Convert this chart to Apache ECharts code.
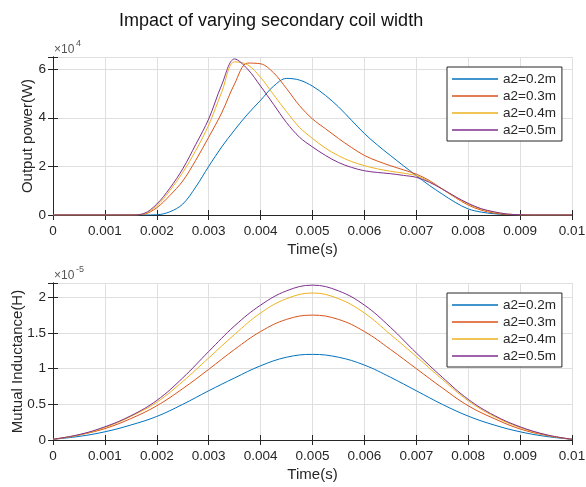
<!DOCTYPE html>
<html>
<head>
<meta charset="UTF-8">
<script src="https://cdn.jsdelivr.net/npm/echarts@6/dist/echarts.min.js"></script>
<title>Impact of varying secondary coil width</title>
<style>
  html, body { margin: 0; padding: 0; background: #fff; }
  #graph { width: 586px; height: 487px; }
</style>
</head>
<body>
<div id="graph"></div>
<script>
  // series names
  var names = ['a2=0.2m', 'a2=0.3m', 'a2=0.4m', 'a2=0.5m'];
  var colors = ['#0072BD', '#D95319', '#EDB120', '#7E2F8E'];

  // output power, x10^4 W, sampled every 0.25 ms
  var timeP = [0, 0.00025, 0.0005, 0.00075, 0.001, 0.00125, 0.0015, 0.00175, 0.002, 0.00225,
               0.0025, 0.00275, 0.003, 0.00325, 0.0035, 0.00375, 0.004, 0.00425, 0.0045, 0.00475,
               0.005, 0.00525, 0.0055, 0.00575, 0.006, 0.00625, 0.0065, 0.00675, 0.007, 0.00725,
               0.0075, 0.00775, 0.008, 0.00825, 0.0085, 0.00875, 0.009, 0.00925, 0.0095, 0.00975, 0.01];
  var powerA = [0, 0, 0, 0, 0, 0, 0, 0, 0.01, 0.13,
                0.45, 1.15, 2.0, 2.8, 3.5, 4.15, 4.72, 5.3, 5.62, 5.55,
                5.3, 4.92, 4.45, 3.9, 3.35, 2.88, 2.45, 2.03, 1.62, 1.22,
                0.86, 0.52, 0.25, 0.12, 0.05, 0.015, 0, 0, 0, 0, 0];
  var powerB = [0, 0, 0, 0, 0, 0, 0, 0.03, 0.3, 0.8,
                1.4, 2.25, 3.2, 4.2, 5.4, 6.25, 6.22, 5.85, 5.2, 4.5,
                3.95, 3.55, 3.15, 2.78, 2.45, 2.22, 2.03, 1.86, 1.68, 1.42,
                1.07, 0.72, 0.41, 0.2, 0.08, 0.02, 0, 0, 0, 0, 0];
  var powerC = [0, 0, 0, 0, 0, 0, 0, 0.04, 0.38, 1.0,
                1.75, 2.65, 3.7, 5.05, 6.3, 6.18, 5.66, 4.95, 4.25, 3.6,
                3.15, 2.75, 2.44, 2.2, 2.03, 1.9, 1.8, 1.72, 1.62, 1.38,
                1.07, 0.74, 0.45, 0.24, 0.12, 0.04, 0.01, 0, 0, 0, 0];
  var powerD = [0, 0, 0, 0, 0, 0, 0, 0.06, 0.45, 1.1,
                1.9, 2.9, 3.95, 5.35, 6.42, 6.0, 5.3, 4.55, 3.8, 3.2,
                2.8, 2.45, 2.16, 1.96, 1.82, 1.75, 1.7, 1.63, 1.55, 1.35,
                1.07, 0.76, 0.48, 0.26, 0.13, 0.04, 0.01, 0, 0, 0, 0];

  // mutual inductance, x10^-5 H
  var timeM = [0, 0.0005, 0.001, 0.0015, 0.002, 0.0025, 0.003, 0.0035, 0.004, 0.0045, 0.005,
               0.0055, 0.006, 0.0065, 0.007, 0.0075, 0.008, 0.0085, 0.009, 0.0095, 0.01];
  var mutualA = [0.01, 0.05, 0.115, 0.21, 0.33, 0.5, 0.69, 0.87, 1.04, 1.16, 1.2,
                 1.16, 1.05, 0.88, 0.69, 0.5, 0.335, 0.21, 0.115, 0.05, 0.01];
  var mutualB = [0.01, 0.07, 0.16, 0.3, 0.48, 0.72, 0.99, 1.27, 1.52, 1.69, 1.75,
                 1.69, 1.52, 1.27, 1.0, 0.73, 0.48, 0.3, 0.155, 0.065, 0.01];
  var mutualC = [0.01, 0.07, 0.175, 0.33, 0.53, 0.82, 1.15, 1.48, 1.78, 1.98, 2.06,
                 1.98, 1.78, 1.48, 1.17, 0.85, 0.55, 0.33, 0.175, 0.07, 0.01];
  var mutualD = [0.01, 0.075, 0.185, 0.34, 0.555, 0.87, 1.24, 1.6, 1.89, 2.09, 2.17,
                 2.09, 1.89, 1.58, 1.22, 0.88, 0.57, 0.345, 0.185, 0.075, 0.01];

  var powerSets = [powerA, powerB, powerC, powerD];
  var mutualSets = [mutualA, mutualB, mutualC, mutualD];

  var font = 'Liberation Sans, Arial, Helvetica, sans-serif';
  var ink = '#262626';

  function pairs(xs, ys) {
    return xs.map(function (x, i) { return [x, ys[i]]; });
  }

  function xAxisMain(grid) {
    return {
      type: 'value', gridIndex: grid, min: 0, max: 0.01, interval: 0.001,
      name: 'Time(s)', nameLocation: 'middle', nameGap: 27, nameMoveOverlap: false,
      nameTextStyle: { fontFamily: font, fontSize: 15, color: ink },
      axisLine: { lineStyle: { color: ink, width: 1 } },
      axisTick: { inside: true, length: 5, lineStyle: { color: ink } },
      axisLabel: {
        margin: 9, fontFamily: font, fontSize: 13.5, color: ink,
        formatter: function (v) { return String(+v.toFixed(3)); }
      },
      splitLine: { show: true, lineStyle: { color: '#dfdfdf' } }
    };
  }
  function xAxisTop(grid) {
    return {
      type: 'value', gridIndex: grid, position: 'top', min: 0, max: 0.01, interval: 0.001,
      axisLine: { lineStyle: { color: ink } },
      axisTick: { inside: true, length: 5, lineStyle: { color: ink } },
      axisLabel: { show: false }, splitLine: { show: false }
    };
  }
  function yAxisMain(grid, max, step, label, gap) {
    return {
      type: 'value', gridIndex: grid, min: 0, max: max, interval: step,
      name: label, nameLocation: 'middle', nameGap: gap, nameMoveOverlap: false,
      nameTextStyle: { fontFamily: font, fontSize: 15, color: ink },
      axisLine: { show: true, lineStyle: { color: ink } },
      axisTick: { show: true, inside: true, length: 5, lineStyle: { color: ink } },
      axisLabel: {
        margin: 7, fontFamily: font, fontSize: 13.5, color: ink,
        formatter: function (v) {
          var k = v / step;
          if (Math.abs(k - Math.round(k)) > 1e-6) return '';
          return String(+v.toFixed(2));
        }
      },
      splitLine: { show: true, lineStyle: { color: '#dfdfdf' } }
    };
  }
  function yAxisRight(grid, max, step) {
    return {
      type: 'value', gridIndex: grid, position: 'right', min: 0, max: max, interval: step,
      axisLine: { show: true, lineStyle: { color: ink } },
      axisTick: { show: true, inside: true, length: 5, lineStyle: { color: ink } },
      axisLabel: { show: false }, splitLine: { show: false }
    };
  }
  function legendAt(top) {
    return {
      orient: 'vertical', left: 447, top: top, data: names,
      icon: 'rect', itemWidth: 46, itemHeight: 1.5, itemGap: 3,
      backgroundColor: '#fff', borderColor: ink, borderWidth: 1, borderRadius: 0,
      padding: [5, 6, 4, 5],
      textStyle: { fontFamily: font, fontSize: 13.5, color: ink }
    };
  }

  var series = [];
  names.forEach(function (n, i) {
    series.push({
      name: n, type: 'line', xAxisIndex: 0, yAxisIndex: 0,
      data: pairs(timeP, powerSets[i]), smooth: 0.35, symbol: 'none',
      lineStyle: { width: 1, color: colors[i] }, itemStyle: { color: colors[i] }
    });
  });
  names.forEach(function (n, i) {
    series.push({
      name: n, type: 'line', xAxisIndex: 2, yAxisIndex: 2,
      data: pairs(timeM, mutualSets[i]), smooth: 0.4, symbol: 'none',
      lineStyle: { width: 1, color: colors[i] }, itemStyle: { color: colors[i] }
    });
  });

  var myChart = echarts.init(document.getElementById('graph'));
  var option = {
    backgroundColor: '#fff',
    animation: false,
    title: {
      text: 'Impact of varying secondary coil width', left: 114, top: 7,
      textStyle: { fontFamily: font, fontSize: 18, fontWeight: 'normal', color: '#111' }
    },
    legend: [legendAt(67), legendAt(293)],
    grid: [
      { left: 53, top: 57, width: 519, height: 158, outerBoundsMode: 'none' },
      { left: 53, top: 283, width: 519, height: 157, outerBoundsMode: 'none' }
    ],
    xAxis: [xAxisMain(0), xAxisTop(0), xAxisMain(1), xAxisTop(1)],
    yAxis: [
      yAxisMain(0, 6.5, 2, 'Output power(W)', 18),
      yAxisRight(0, 6.5, 2),
      yAxisMain(1, 2.2, 0.5, 'Mutual Inductance(H)', 28),
      yAxisRight(1, 2.2, 0.5)
    ],
    graphic: [
      { type: 'text', left: 54, top: 44, style: { text: '×10', fontFamily: font, fontSize: 12, fill: '#555' } },
      { type: 'text', left: 76, top: 39, style: { text: '4', fontFamily: font, fontSize: 9, fill: '#555' } },
      { type: 'text', left: 54, top: 270, style: { text: '×10', fontFamily: font, fontSize: 12, fill: '#555' } },
      { type: 'text', left: 76, top: 265, style: { text: '-5', fontFamily: font, fontSize: 9, fill: '#555' } }
    ],
    series: series
  };
  myChart.setOption(option);
</script>
</body>
</html>
